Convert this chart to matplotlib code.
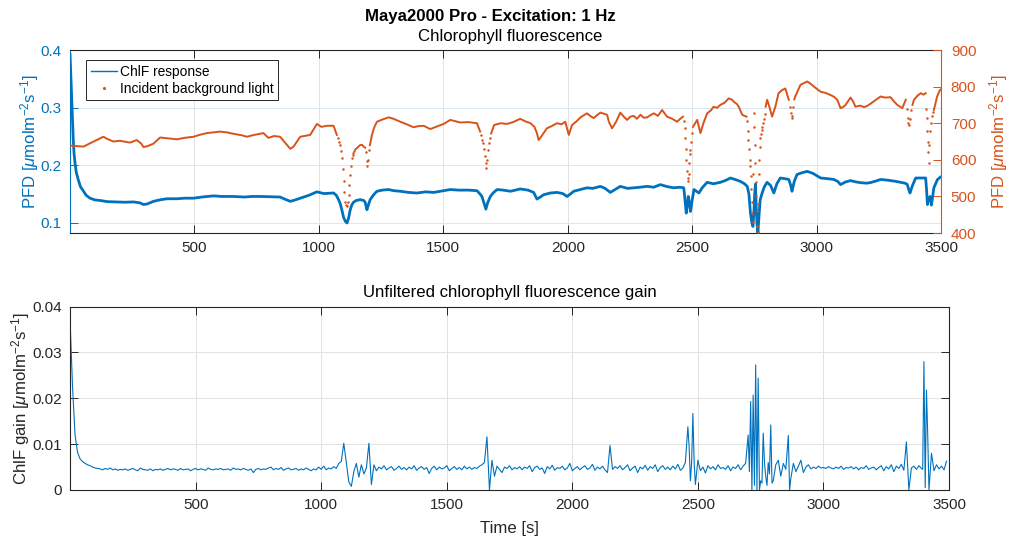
import numpy as np
import matplotlib
matplotlib.use("Agg")
import matplotlib.pyplot as plt

plt.rcParams['font.family'] = ['Liberation Sans', 'DejaVu Sans']
plt.rcParams['mathtext.fontset'] = 'custom'
plt.rcParams['mathtext.rm'] = 'Liberation Sans'
plt.rcParams['mathtext.it'] = 'Liberation Sans:italic'

nan = np.nan

# ChlF response (time [s], value in 1e-3 umol m-2 s-1)
chlf = [(0, 392), (3, 360), (7, 313), (10, 280), (13, 244), (16, 222), (20, 204), (25, 188),
        (33, 175), (42, 163), (54, 155), (65, 148), (80, 143), (100, 140), (121, 139), (150, 137),
        (188, 136.5), (220, 136), (255, 136.5), (280, 135), (295, 132), (310, 133), (335, 137.5),
        (360, 140), (389, 142), (430, 142), (460, 143), (496, 143), (530, 145), (576, 147),
        (610, 146), (657, 146), (700, 145), (730, 146), (764, 146), (800, 145.5), (844, 145),
        (865, 141), (885, 137.5), (905, 140), (925, 143), (960, 148), (992, 154), (1020, 151),
        (1059, 152), (1070, 148), (1079, 140.5), (1086, 133), (1092, 123), (1099, 110), (1106, 103),
        (1113, 100), (1119, 108), (1126, 123), (1132, 131), (1139, 136), (1150, 139), (1166, 140.5),
        (1180, 139), (1186, 136), (1190, 128), (1193, 123), (1198, 130), (1206, 140.5), (1220, 149),
        (1233, 155), (1255, 157), (1280, 158), (1300, 156), (1327, 155), (1360, 153), (1394, 152),
        (1430, 154), (1461, 153), (1500, 156), (1528, 158), (1560, 157), (1600, 157), (1635, 156),
        (1648, 150), (1655, 146), (1663, 135), (1671, 124), (1678, 135), (1689, 146), (1700, 152),
        (1716, 158), (1740, 157), (1770, 155), (1809, 159), (1840, 157), (1863, 153), (1876, 141.5),
        (1890, 145), (1903, 149), (1930, 152), (1957, 153), (1980, 151), (1997, 146), (2010, 150),
        (2024, 155), (2050, 158), (2077, 161), (2100, 160), (2131, 163.5), (2150, 160), (2171, 153),
        (2190, 158), (2211, 163.5), (2240, 160), (2265, 161), (2290, 162), (2319, 163.5), (2345, 162),
        (2372, 166.5), (2400, 163), (2426, 161), (2450, 162), (2466, 161), (2471, 140), (2476, 117),
        (2480, 130), (2484, 146), (2489, 135), (2493, 120), (2500, 140), (2507, 158), (2520, 154),
        (2527, 152), (2540, 161), (2560, 170.5), (2585, 168), (2613, 170.5), (2635, 174), (2654, 178),
        (2675, 175), (2694, 172), (2710, 168), (2721, 163.5), (2728, 150), (2734, 117), (2740, 100),
        (2744, 94), (2748, 120), (2751, 150), (2754, 167.5), (2757, 130), (2760, 100), (2764, 83),
        (2768, 110), (2773, 140), (2781, 152), (2790, 163), (2801, 170.5), (2815, 165), (2828, 152),
        (2840, 168), (2854, 178), (2870, 177), (2888, 175.5), (2896, 165), (2901, 155), (2910, 172),
        (2921, 184), (2940, 187), (2962, 189.5), (2985, 186), (3016, 178), (3040, 177), (3069, 175.5),
        (3085, 172), (3096, 166.5), (3115, 171), (3136, 173.5), (3160, 171), (3176, 170), (3200, 169),
        (3216, 170), (3240, 173), (3257, 175.5), (3290, 174), (3320, 172), (3337, 170.5), (3355, 169),
        (3364, 167), (3370, 158), (3375, 152), (3385, 165), (3398, 178), (3420, 178), (3438, 178),
        (3442, 155), (3445, 132), (3450, 142), (3456, 146), (3461, 131), (3466, 145), (3471, 161),
        (3485, 175), (3498, 180), (3505, 179)]

# incident background light, slow parts (nan = gap where the trace breaks into dots)
light_trace = [(0, 639), (20, 638), (54, 636), (80, 645), (110, 655), (134, 663), (150, 657),
               (174, 650), (200, 652), (241, 647), (268, 654), (285, 645), (295, 635), (310, 637),
               (335, 644), (362, 661), (400, 658), (429, 656), (460, 660), (496, 663), (520, 668),
               (550, 673), (603, 677), (630, 675), (657, 671), (690, 667), (710, 663), (740, 668),
               (777, 673), (797, 660), (820, 665), (844, 663), (860, 650), (885, 630), (898, 636),
               (925, 663), (965, 668), (992, 698), (1010, 690), (1032, 693), (1059, 693), (1072, 668),
               (1074, nan),
               (1146, 628), (1153, 632), (1165, 640), (1173, 641), (1180, 636), (1186, 633),
               (1188, nan),
               (1205, 640), (1213, 668), (1222, 688), (1233, 704), (1255, 710), (1280, 716), (1300, 712),
               (1327, 704), (1350, 698), (1380, 689), (1400, 692), (1421, 693), (1447, 684), (1470, 690),
               (1501, 698), (1528, 709), (1550, 705), (1568, 702), (1600, 703), (1635, 700), (1648, 677),
               (1650, nan),
               (1692, 672), (1704, 695), (1730, 700), (1756, 698), (1780, 703), (1809, 712), (1830, 705),
               (1850, 700), (1866, 690), (1876, 673), (1883, 654), (1895, 665), (1916, 686), (1935, 692),
               (1957, 700), (1975, 697), (1990, 704), (2004, 668), (2017, 695), (2035, 705), (2051, 716),
               (2077, 727), (2090, 720), (2104, 714), (2118, 722), (2131, 729), (2145, 726), (2158, 723),
               (2165, 704), (2178, 686), (2195, 705), (2211, 729), (2225, 718), (2238, 709), (2252, 718),
               (2265, 720), (2278, 712), (2292, 723), (2305, 715), (2319, 716), (2332, 722), (2346, 727),
               (2362, 720), (2379, 736), (2399, 718), (2420, 712), (2439, 704), (2452, 712), (2463, 718),
               (2464, nan),
               (2503, 690), (2520, 709), (2533, 673), (2545, 700), (2560, 727), (2575, 735), (2586, 745),
               (2600, 742), (2613, 750), (2630, 756), (2647, 768), (2660, 764), (2667, 759), (2680, 752),
               (2687, 745), (2701, 723), (2710, 720), (2718, 718),
               (2719, nan),
               (2795, 745), (2801, 764), (2810, 745), (2821, 718), (2834, 745), (2847, 782), (2860, 790),
               (2874, 795), (2888, 764),
               (2890, nan),
               (2910, 765), (2914, 773), (2935, 805), (2950, 810), (2962, 814), (2975, 808), (2989, 800),
               (3016, 786), (3035, 783), (3056, 777), (3070, 772), (3083, 764), (3096, 741), (3108, 745),
               (3116, 750), (3136, 770), (3146, 760), (3156, 745), (3175, 748), (3190, 744), (3203, 747),
               (3220, 755), (3240, 765), (3257, 773), (3275, 770), (3297, 771), (3310, 760), (3324, 750),
               (3344, 741), (3358, 764),
               (3360, nan),
               (3385, 750), (3391, 764), (3405, 775), (3418, 782), (3430, 778), (3438, 782),
               (3439, nan),
               (3471, 736), (3484, 773), (3495, 790), (3505, 796)]

# incident background light, fast drops (separate dots)
light_dips = [(1076, 660), (1080, 650), (1084, 641), (1088, 625), (1092, 604), (1095, 575), (1099, 541),
              (1102, 512), (1106, 486), (1109, 477), (1112, 473), (1115, 485), (1119, 504), (1122, 530),
              (1126, 559), (1129, 583), (1132, 605), (1136, 613), (1139, 619), (1143, 625),
              (1189, 620), (1192, 598), (1195, 582), (1198, 600), (1202, 628),
              (1652, 668), (1656, 655), (1660, 645), (1664, 630), (1667, 610), (1670, 590), (1673, 577),
              (1676, 600), (1680, 627), (1684, 645), (1688, 660),
              (2466, 705), (2469, 687), (2472, 660), (2475, 630), (2477, 600), (2480, 570), (2482, 550),
              (2484, 541), (2486, 560), (2488, 590), (2490, 615), (2493, 627), (2496, 650), (2499, 673),
              (2720, 705), (2723, 680), (2726, 654), (2729, 630), (2731, 600), (2733, 582), (2735, 555),
              (2737, 520), (2739, 485), (2741, 455), (2743, 430), (2745, 560), (2747, 727), (2749, 690),
              (2751, 640), (2753, 590), (2755, 540), (2757, 500), (2759, 460), (2761, 420), (2763, 402),
              (2765, 480), (2767, 560), (2769, 600), (2771, 636), (2773, 659), (2776, 670), (2779, 682),
              (2782, 690), (2785, 700), (2788, 712), (2791, 725),
              (2893, 745), (2896, 728), (2899, 714), (2902, 720), (2906, 745),
              (3362, 740), (3366, 715), (3369, 700), (3372, 695), (3376, 712), (3380, 735),
              (3441, 740), (3443, 715), (3445, 680), (3447, 650), (3449, 620), (3451, 592), (3453, 640),
              (3456, 680), (3459, 700), (3462, 720), (3466, 730)]

# unfiltered ChlF gain, every 10 s from t = 0 (units of 1e-4)
gain_e4 = [372, 225, 120, 82, 68, 62, 58, 55, 53, 50, 48, 47, 46, 44, 47, 45, 48, 44, 46, 43,
           45, 44, 46, 43, 45, 47, 44, 42, 48, 45, 44, 43, 46, 42, 45, 44, 46, 43, 45, 47,
           44, 46, 45, 43, 47, 44, 45, 46, 42, 45, 47, 44, 46, 45, 43, 48, 45, 44, 46, 45,
           47, 44, 45, 46, 43, 48, 45, 46, 44, 47, 45, 43, 46, 38, 45, 47, 44, 46, 45, 48,
           50, 44, 47, 45, 49, 43, 46, 48, 44, 45, 47, 43, 46, 44, 48, 45, 42, 46, 44, 50,
           45, 52, 44, 48, 46, 51, 47, 58, 62, 102, 60, 18, 8, 40, 58, 28, 55, 35, 48, 102,
           12, 55, 42, 50, 46, 53, 44, 48, 51, 43, 47, 52, 45, 49, 44, 50, 46, 53, 43, 48,
           51, 45, 49, 36, 47, 52, 44, 50, 46, 48, 53, 42, 47, 51, 45, 49, 44, 52, 46, 50,
           45, 49, 47, 52, 55, 60, 116, 0, 65, 30, 52, 45, 38, 50, 47, 53, 44, 49, 46, 51,
           44, 50, 47, 53, 40, 49, 52, 45, 48, 36, 51, 46, 54, 43, 49, 47, 52, 44, 48, 58,
           42, 47, 51, 44, 49, 53, 45, 48, 56, 43, 50, 46, 52, 44, 38, 97, 45, 51, 47, 53,
           44, 49, 55, 42, 48, 52, 38, 50, 46, 54, 43, 51, 47, 55, 40, 49, 53, 45, 50, 44,
           52, 46, 56, 43, 48, 60, 138, 20, 167, 12, 65, 42, 50, 37, 53, 46, 51, 44, 55, 47,
           49, 45, 53, 42, 50, 47, 55, 44, 52, 58, 120, 193, 207, 273, 244, 20, 124, 30, 60, 142,
           20, 55, 65, 30, 58, 45, 119, 25, 58, 40, 52, 65, 38, 50, 55, 46, 50, 47, 52, 48,
           49, 47, 51, 48, 46, 50, 47, 52, 45, 49, 48, 51, 46, 50, 44, 49, 47, 53, 45, 48,
           50, 44, 49, 53, 42, 51, 46, 55, 40, 52, 47, 56, 43, 105, 0, 48, 52, 45, 53, 47,
           280, 218, 0, 80, 42, 55, 46, 52, 44, 63]
# extra samples inside the bursts (time [s], units of 1e-4)
gain_burst = [(2465, 95), (2475, 60), (2485, 60), (2705, 40), (2715, 0), (2725, 10), (2735, 0),
              (2745, 0), (2755, 15), (2765, 60), (2775, 10), (2785, 35), (2795, 15), (2865, 0),
              (3395, 45), (3405, 5), (3415, 120)]

time_ticks = [500, 1000, 1500, 2000, 2500, 3000, 3500]
pfd_ticks = [0.1, 0.2, 0.3, 0.4]
light_ticks = [400, 500, 600, 700, 800, 900]
gain_ticks = [0, 0.01, 0.02, 0.03, 0.04]
gain_labels = ['0', '0.01', '0.02', '0.03', '0.04']

blue = '#0072BD'
orange = '#D95319'
dark = '#262626'

chlf_t, chlf_v = np.array(chlf).T
light_t, light_v = np.array(light_trace).T
dip_t, dip_v = np.array(light_dips).T
g_t = np.concatenate([np.arange(len(gain_e4)) * 10, np.array(gain_burst)[:, 0]])
g_v = np.concatenate([gain_e4, np.array(gain_burst)[:, 1]]) * 1e-4
order = np.argsort(g_t)
g_t, g_v = g_t[order], g_v[order]

fig = plt.figure(figsize=(10.09, 5.4), dpi=100)
ax = fig.add_axes([0.0694, 0.5685, 0.8633, 0.3389])
ax2 = ax.twinx()
ax3 = fig.add_axes([0.0694, 0.0926, 0.8712, 0.3395])

ulabel = r' [$\mu$molm$^{-2}$s$^{-1}$]'

# top panel
line_chlf, = ax.plot(chlf_t, chlf_v * 1e-3, color=blue, lw=2.0, label='ChlF response')
ax2.plot(light_t, light_v, color=orange, lw=1.4)
ax2.plot(dip_t, dip_v, ls='none', marker='.', ms=1.6, color=orange)
ax.set_xlim(0, 3500)
ax.set_ylim(0.0826, 0.4)
ax2.set_ylim(400, 900)
ax.set_xticks(time_ticks)
ax.set_yticks(pfd_ticks)
ax.set_yticklabels(['0.1', '0.2', '0.3', '0.4'])
ax2.set_yticks(light_ticks)
ax.xaxis.grid(True, color='#e2e2e2', lw=0.7)
ax.yaxis.grid(True, color='#dae8f3', lw=0.7)
ax.set_axisbelow(True)
ax.tick_params(axis='x', direction='in', top=True, length=6, width=0.7, colors=dark,
               labelsize=11, pad=6)
ax.tick_params(axis='y', direction='in', length=6, width=0.7, colors=blue, labelsize=11, pad=6)
ax2.tick_params(axis='y', direction='in', length=6, width=0.7, colors=orange, labelsize=11, pad=7)
ax.spines['left'].set_color(blue)
ax.spines['right'].set_visible(False)
for s in ['top', 'bottom']:
    ax.spines[s].set_color(dark)
    ax2.spines[s].set_visible(False)
ax2.spines['left'].set_visible(False)
ax2.spines['right'].set_color(orange)
ax.set_ylabel('PFD' + ulabel, color=blue, fontsize=12.1, labelpad=0)
ax2.set_ylabel('PFD' + ulabel, color=orange, fontsize=12.1, labelpad=8)
leg_dot = plt.Line2D([], [], ls='none', marker='.', ms=2.5, color=orange)
leg = ax2.legend([line_chlf, leg_dot], ['ChlF response', 'Incident background light'],
                 loc='upper left', bbox_to_anchor=(0.0184, 0.945), borderaxespad=0,
                 fontsize=9.9, fancybox=False, framealpha=1, edgecolor=dark,
                 handlelength=1.9, handletextpad=0.2, borderpad=0.35, labelspacing=0.2)
leg.get_frame().set_linewidth(0.7)
leg.legend_handles[0].set_linewidth(1.0)

# bottom panel
ax3.plot(g_t, g_v, color=blue, lw=0.8)
ax3.set_xlim(0, 3500)
ax3.set_ylim(0, 0.04)
ax3.set_xticks(time_ticks)
ax3.set_yticks(gain_ticks)
ax3.set_yticklabels(gain_labels)
ax3.grid(True, color='#e2e2e2', lw=0.7)
ax3.set_axisbelow(True)
ax3.tick_params(direction='in', top=True, right=True, length=6, width=0.7, colors=dark,
                labelsize=11, pad=6)
for s in ax3.spines.values():
    s.set_color(dark)
ax3.set_ylabel('ChlF gain' + ulabel, color=dark, fontsize=12.1, labelpad=0)
ax3.set_xlabel('Time [s]', color=dark, fontsize=12.1, labelpad=6)

fig.text(490 / 1009, 1 - 17 / 540, 'Maya2000 Pro - Excitation: 1 Hz', ha='center', va='center',
         fontsize=12.1, fontweight='bold', color='black')
fig.text(510 / 1009, 1 - 37 / 540, 'Chlorophyll fluorescence', ha='center', va='center',
         fontsize=12.1, color='black')
fig.text(510 / 1009, 1 - 293 / 540, 'Unfiltered chlorophyll fluorescence gain', ha='center',
         va='center', fontsize=12.1, color='black')

fig.savefig('out.png', dpi=100)
